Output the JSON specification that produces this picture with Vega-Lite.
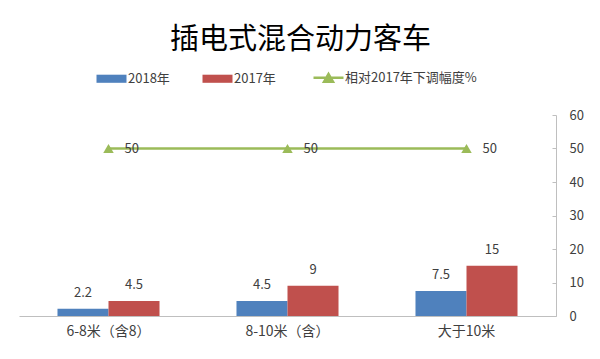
{
  "$schema": "https://vega.github.io/schema/vega-lite/v6.json",
  "width": 537,
  "height": 201,
  "autosize": {"type": "none"},
  "padding": {"left": 19, "top": 115, "right": 44, "bottom": 43},
  "background": "white",
  "config": {
    "view": {"stroke": null},
    "font": "Noto Sans CJK SC",
    "axis": {"labelFont": "Noto Sans CJK SC", "labelColor": "#404040", "labelFontSize": 13},
    "axisY": {"labelOverlap": false, "grid": false},
    "legend": {"labelFont": "Noto Sans CJK SC"}
  },
  "title": {
    "text": "插电式混合动力客车",
    "fontSize": 29,
    "fontWeight": "normal",
    "color": "#000000",
    "font": "Noto Sans CJK SC",
    "anchor": "middle",
    "dx": 13,
    "offset": 16
  },
  "datasets": {
    "bars": [
      {"cat": "6-8米（含8）", "series": "2018年", "value": 2.2},
      {"cat": "6-8米（含8）", "series": "2017年", "value": 4.5},
      {"cat": "8-10米（含）", "series": "2018年", "value": 4.5},
      {"cat": "8-10米（含）", "series": "2017年", "value": 9},
      {"cat": "大于10米", "series": "2018年", "value": 7.5},
      {"cat": "大于10米", "series": "2017年", "value": 15}
    ],
    "line": [
      {"cat": "6-8米（含8）", "value": 50},
      {"cat": "8-10米（含）", "value": 50},
      {"cat": "大于10米", "value": 50}
    ]
  },
  "encoding": {
    "x": {
      "field": "cat",
      "type": "nominal",
      "sort": null,
      "title": null,
      "scale": {"paddingInner": 0.43, "paddingOuter": 0.215},
      "axis": {
        "orient": "bottom",
        "labelAngle": 0,
        "ticks": false,
        "domainColor": "#bfbfbf",
        "domainWidth": 1,
        "labelPadding": 8,
        "labelFontSize": 14
      }
    },
    "y": {
      "field": "value",
      "type": "quantitative",
      "title": null,
      "scale": {"domain": [0, 60]},
      "axis": {
        "orient": "right",
        "values": [0, 10, 20, 30, 40, 50, 60],
        "grid": false,
        "labelOverlap": false,
        "domainColor": "#bfbfbf",
        "tickColor": "#bfbfbf",
        "tickSize": -4,
        "labelPadding": 17,
        "labelAlign": "left",
        "labelColor": "#404040"
      }
    }
  },
  "layer": [
    {
      "data": {"name": "bars"},
      "mark": {"type": "bar"},
      "encoding": {
        "xOffset": {"field": "series", "type": "nominal", "sort": ["2018年", "2017年"], "scale": {"paddingInner": 0}},
        "color": {
          "field": "series",
          "type": "nominal",
          "scale": {
            "domain": ["2018年", "2017年", "相对2017年下调幅度%"],
            "range": ["#4F81BD", "#C0504D", "#9BBB59"]
          },
          "legend": {
            "orient": "none",
            "legendX": 86,
            "legendY": -44,
            "direction": "horizontal",
            "title": null,
            "symbolSize": 900,
            "labelFontSize": 13,
            "labelColor": "#404040",
            "labelOffset": 10,
            "columnPadding": 32,
            "encode": {
              "symbols": {
                "update": {
                  "shape": {"signal": "datum.value === '相对2017年下调幅度%' ? 'M-1,0H1M-0.3,0.28L0,-0.24L0.3,0.28Z' : 'M-1,-0.27H1V0.27H-1Z'"},
                  "stroke": {"signal": "datum.value === '相对2017年下调幅度%' ? '#9BBB59' : null"},
                  "strokeWidth": {"signal": "datum.value === '相对2017年下调幅度%' ? 2.5 : 0"},
                  "fill": {"signal": "scale('color', datum.value)"},
                  "opacity": {"value": 1}
                }
              }
            }
          }
        }
      }
    },
    {
      "data": {"name": "bars"},
      "mark": {"type": "text", "baseline": "bottom", "dy": -9, "fontSize": 13, "color": "#404040"},
      "encoding": {
        "xOffset": {"field": "series", "type": "nominal", "sort": ["2018年", "2017年"], "scale": {"paddingInner": 0}},
        "text": {"field": "value", "type": "quantitative"}
      }
    },
    {
      "data": {"name": "line"},
      "mark": {"type": "line", "color": "#9BBB59", "strokeWidth": 2.5},
      "encoding": {}
    },
    {
      "data": {"name": "line"},
      "mark": {"type": "point", "shape": "triangle-up", "filled": true, "color": "#9BBB59", "size": 110, "opacity": 1},
      "encoding": {}
    },
    {
      "data": {"name": "line"},
      "mark": {"type": "text", "align": "left", "baseline": "middle", "dx": 16, "fontSize": 13, "color": "#404040"},
      "encoding": {
        "text": {"field": "value", "type": "quantitative"}
      }
    }
  ]
}
